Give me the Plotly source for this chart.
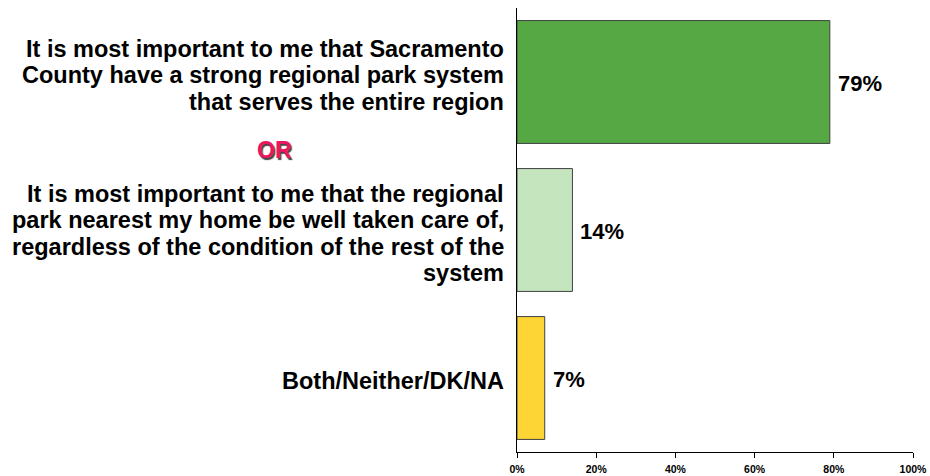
import plotly.graph_objects as go

categories = [
    "It is most important to me that Sacramento<br>County have a strong regional park system<br>that serves the entire region",
    "It is most important to me that the regional<br>park nearest my home be well taken care of,<br>regardless of the condition of the rest of the<br>system",
    "Both/Neither/DK/NA",
]
values = [79, 14, 7]
colors = ["#55A844", "#C5E5BF", "#FDD535"]
tick_vals = [0, 20, 40, 60, 80, 100]
tick_text = ["0%", "20%", "40%", "60%", "80%", "100%"]

FONT = "Liberation Sans, Arial, Helvetica, sans-serif"
ypos = list(range(len(categories)))
label_offset = [-7, 3.5, 2.5]   # vertical offset of each label block (px, down)
LINE_H = 26.5

fig = go.Figure()
fig.add_trace(go.Bar(
    x=values, y=ypos, orientation="h",
    marker=dict(color=colors, line=dict(color="#404040", width=1)),
    width=0.83, hoverinfo="skip",
))

annotations = []
for yi, v in zip(ypos, values):
    annotations.append(dict(
        x=v, y=yi, xref="x", yref="y", text=f"<b>{v}%</b>",
        showarrow=False, xanchor="left", yanchor="middle", xshift=6, yshift=-1,
        font=dict(family=FONT, size=22, color="#000000"),
    ))
for yi, c, off in zip(ypos, categories, label_offset):
    lines = c.split("<br>")
    n = len(lines)
    for k, ln in enumerate(lines):
        dy = off + (k - (n - 1) / 2) * LINE_H
        annotations.append(dict(
            x=0, y=yi, xref="paper", yref="y", text=f"<b>{ln}</b>",
            showarrow=False, xanchor="right", yanchor="middle", xshift=-11, yshift=-dy,
            align="right", font=dict(family=FONT, size=23.5, color="#000000"),
        ))
annotations.append(dict(
    x=(274 - 517) / 396, y=0.5, xref="paper", yref="y", text="<b>OR</b>",
    showarrow=False, xanchor="center", yanchor="middle", yshift=6,
    font=dict(family=FONT, size=23, color="#EC1560", shadow="1.5px 1.5px 1px #444444"),
))

fig.update_layout(
    width=930, height=476,
    margin=dict(l=517, r=17, t=8, b=24),
    paper_bgcolor="white", plot_bgcolor="white",
    showlegend=False,
    annotations=annotations,
    xaxis=dict(
        range=[0, 100], tickvals=tick_vals,
        ticktext=[f"<b>{t}</b>" for t in tick_text],
        ticks="outside", ticklen=5, tickcolor="#000000", tickwidth=1,
        showline=True, linecolor="#000000", linewidth=1,
        showgrid=False, zeroline=False, automargin=False,
        ticklabelstandoff=2,
        tickfont=dict(family=FONT, size=10.5, color="#000000"),
        fixedrange=True,
    ),
    yaxis=dict(
        range=[2.5, -0.5], showticklabels=False, ticks="",
        showline=True, linecolor="#000000", linewidth=1,
        showgrid=False, zeroline=False, fixedrange=True, automargin=False,
    ),
)

fig.write_html(
    "out.html",
    config={"displayModeBar": False},
    post_script="document.body.style.margin='0';document.body.style.overflow='hidden';",
)
